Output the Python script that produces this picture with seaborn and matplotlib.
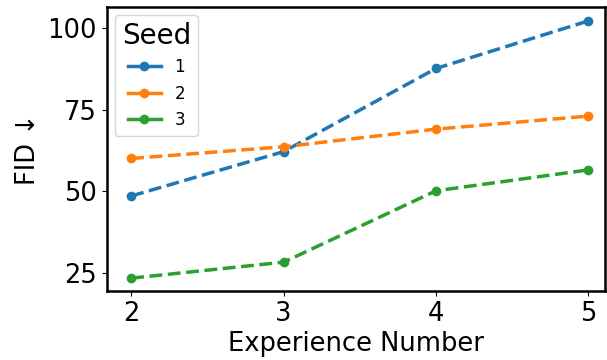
import matplotlib
matplotlib.use("Agg")
import matplotlib.pyplot as plt
import seaborn as sns
import pandas as pd

experience = [2, 3, 4, 5]
seed1 = [48.6, 62.2, 87.7, 102.3]
seed2 = [60.1, 63.7, 69.1, 73.1]
seed3 = [23.4, 28.3, 50.2, 56.6]
seeds = ["1", "2", "3"]

rows = []
for s, vals in zip(seeds, [seed1, seed2, seed3]):
    for x, v in zip(experience, vals):
        rows.append({"Experience Number": x, "FID": v, "Seed": s})
df = pd.DataFrame(rows)

fig = plt.figure(figsize=(6.07, 3.6), dpi=100)
ax = fig.add_axes([0.176, 0.192, 0.821, 0.789])
sns.lineplot(data=df, x="Experience Number", y="FID", hue="Seed",
             palette=["#1f77b4", "#ff7f0e", "#2ca02c"], marker="o",
             markeredgewidth=0, markersize=7, linestyle="--", linewidth=2.5, ax=ax)
ax.set_xticks(experience)
ax.set_yticks([25, 50, 75, 100])
ax.set_xlim(1.84, 5.11)
ax.set_ylim(19.5, 106.6)
ax.tick_params(labelsize=18.5)
ax.set_xlabel("Experience Number", fontsize=18.5, labelpad=3)
ax.set_ylabel("FID ↓", fontsize=18.5, labelpad=5)
for sp in ax.spines.values():
    sp.set_linewidth(1.8)
    sp.set_color("black")
leg = ax.legend(title="Seed", fontsize=12, title_fontsize=20, loc="upper left")
for line in leg.get_lines():
    line.set_linestyle("-")
fig.savefig("out.png", dpi=100)
